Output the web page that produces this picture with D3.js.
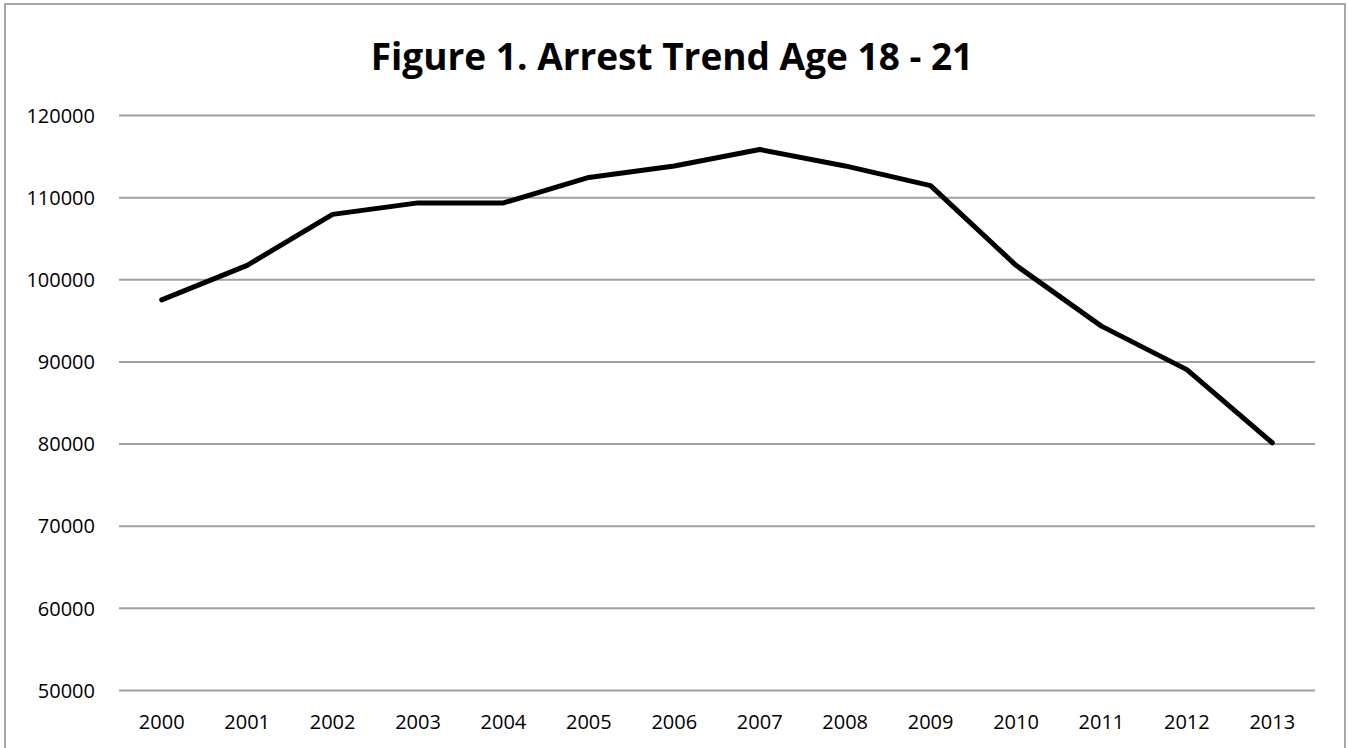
<!DOCTYPE html>
<html>
<head>
<meta charset="utf-8">
<script src="https://cdn.jsdelivr.net/npm/d3@7"></script>
<style>
  html, body { margin: 0; padding: 0; background: #fff; }
  svg { display: block; }
  text { font-family: "Open Sans", "Liberation Sans", sans-serif; fill: #000; }
</style>
</head>
<body>
<svg id="chart" width="1348" height="748"></svg>
<script>
// Arrests, age 18-21, by year
const years = ["2000","2001","2002","2003","2004","2005","2006","2007","2008","2009","2010","2011","2012","2013"];
const arrests = [97500, 101700, 107900, 109300, 109300, 112400, 113800, 115800, 113800, 111400, 101700, 94300, 89000, 80100];
const yTicks = [50000, 60000, 70000, 80000, 90000, 100000, 110000, 120000];
const titleText = "Figure 1. Arrest Trend Age 18 - 21";

const svg = d3.select("#chart");
const W = 1348, H = 748;
const plot = { left: 119, right: 1315, top: 115, bottom: 690 };

// outer frame
svg.append("rect")
  .attr("x", 5).attr("y", 4)
  .attr("width", 1340).attr("height", 760)
  .attr("fill", "#fff").attr("stroke", "#a6a6a6").attr("stroke-width", 2);

const x = d3.scaleBand().domain(years).range([plot.left, plot.right]).padding(0);
const y = d3.scaleLinear().domain([50000, 120000]).range([plot.bottom, plot.top]);

// horizontal gridlines + y labels
const yAxis = d3.axisLeft(y).tickValues(yTicks).tickSize(-(plot.right - plot.left)).tickPadding(24).tickFormat(d3.format("d"));
const gy = svg.append("g").attr("transform", `translate(${plot.left},0)`).call(yAxis);
gy.select(".domain").remove();
gy.selectAll(".tick line").attr("stroke", "#a0a0a0").attr("stroke-width", 2);
gy.selectAll(".tick text")
  .attr("font-size", 20).attr("x", -24).attr("dy", "0.36em")
  .style("font-family", "'Open Sans', sans-serif").attr("fill", "#000");

// x labels
const xAxis = d3.axisBottom(x).tickSize(0).tickPadding(24);
const gx = svg.append("g").attr("transform", `translate(0,${plot.bottom})`).call(xAxis);
gx.select(".domain").remove();
gx.selectAll(".tick text")
  .attr("font-size", 20).attr("y", 0).attr("dy", "39px")
  .style("font-family", "'Open Sans', sans-serif").attr("fill", "#000");

// trend line
const line = d3.line()
  .x((d, i) => x(years[i]) + x.bandwidth() / 2)
  .y(d => y(d));
svg.append("path")
  .datum(arrests)
  .attr("d", line)
  .attr("fill", "none")
  .attr("stroke", "#000")
  .attr("stroke-width", 5)
  .attr("stroke-linejoin", "round")
  .attr("stroke-linecap", "round");

// title
svg.append("text")
  .attr("x", 672).attr("y", 70)
  .attr("text-anchor", "middle")
  .attr("font-size", 37).attr("font-weight", "bold")
  .style("font-family", "'Open Sans', sans-serif")
  .text(titleText);
</script>
</body>
</html>
